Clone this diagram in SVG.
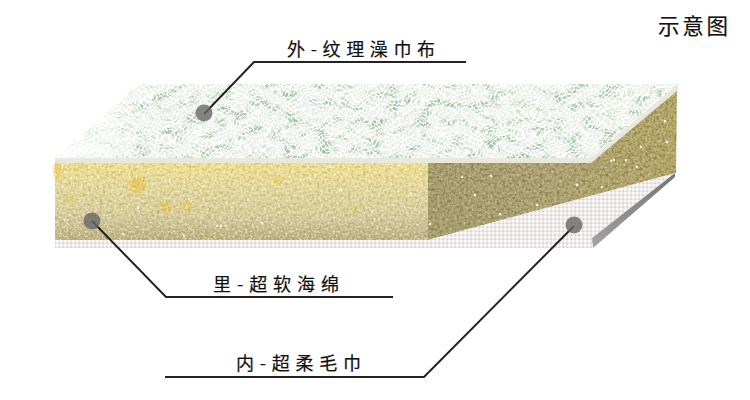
<svg xmlns="http://www.w3.org/2000/svg" width="750" height="400" viewBox="0 0 750 400">
  <style>
    .label { font-family: "Noto Sans CJK SC", "Noto Sans", sans-serif; fill: #111; stroke: #111; stroke-width: .2; }
    .leader { fill: none; stroke: #222; stroke-width: 2; }
    .dot { fill: #676764; fill-opacity: .8; }
  </style>
  <defs>
    <linearGradient id="foamFront" x1="0" y1="0" x2="0" y2="1">
      <stop offset="0" stop-color="#f0e088"/>
      <stop offset=".25" stop-color="#e8da98"/>
      <stop offset=".7" stop-color="#d6ca9a"/>
      <stop offset="1" stop-color="#b9ad7e"/>
    </linearGradient>
    <linearGradient id="foamSide" x1="0" y1="0" x2="1" y2="0">
      <stop offset="0" stop-color="#a79d6e"/>
      <stop offset=".5" stop-color="#aea373"/>
      <stop offset="1" stop-color="#b5a766"/>
    </linearGradient>
    <linearGradient id="edgeShade" x1="0" y1="1" x2="1" y2="0">
      <stop offset="0" stop-color="#a3a3a3"/>
      <stop offset="1" stop-color="#747474"/>
    </linearGradient>
    <linearGradient id="cornerFade" x1="0" y1="0" x2="1" y2="0">
      <stop offset="0" stop-color="#fff" stop-opacity=".9"/>
      <stop offset="1" stop-color="#fff" stop-opacity="0"/>
    </linearGradient>

    <!-- white terry loops laid over the green pile -->
    <pattern id="loops" width="7" height="5" patternUnits="userSpaceOnUse">
      <path d="M0 1q1.7 2.4 3.5 0t3.5 0M0 3.6q1.7-2.4 3.5 0t3.5 0" fill="none" stroke="#fff" stroke-width="1.35"/>
    </pattern>
    <!-- small woven cells of the inner towel -->
    <pattern id="weave" width="4" height="4" patternUnits="userSpaceOnUse">
      <rect width="4" height="4" fill="#eeeaea"/>
      <circle cx="1.2" cy="1.2" r="1.1" fill="#fff"/>
      <circle cx="3.2" cy="3.2" r=".8" fill="#d0c9cc"/>
    </pattern>

    <filter id="greenPile" x="0" y="0" width="1" height="1" color-interpolation-filters="sRGB">
      <feTurbulence type="fractalNoise" baseFrequency=".06 .11" numOctaves="3" seed="7"/>
      <feColorMatrix values="0 0 0 0 .62  0 0 0 0 .76  0 0 0 0 .63  4 0 0 0 -1.95"/>
      <feComposite in2="SourceAlpha" operator="in"/>
    </filter>
    <filter id="swirl" x="-2%" y="-2%" width="104%" height="104%">
      <feTurbulence type="fractalNoise" baseFrequency=".06" numOctaves="2" seed="21" result="warp"/>
      <feDisplacementMap in="SourceGraphic" in2="warp" scale="16" xChannelSelector="R" yChannelSelector="G"/>
      <feGaussianBlur stdDeviation=".3"/>
    </filter>
    <filter id="grain" x="0" y="0" width="1" height="1" color-interpolation-filters="sRGB">
      <feTurbulence type="fractalNoise" baseFrequency=".42" numOctaves="2" seed="3"/>
      <feColorMatrix values="0 0 0 0 1  0 0 0 0 1  0 0 0 0 .92  3 0 0 0 -1.35"/>
      <feGaussianBlur stdDeviation=".4"/>
      <feComposite in2="SourceAlpha" operator="in"/>
    </filter>
    <filter id="grainDark" x="0" y="0" width="1" height="1" color-interpolation-filters="sRGB">
      <feTurbulence type="fractalNoise" baseFrequency=".35" numOctaves="2" seed="11"/>
      <feColorMatrix values="0 0 0 0 .45  0 0 0 0 .41  0 0 0 0 .2  3 0 0 0 -1.35"/>
      <feGaussianBlur stdDeviation=".4"/>
      <feComposite in2="SourceAlpha" operator="in"/>
    </filter>
    <filter id="soft" x="-30%" y="-30%" width="160%" height="160%">
      <feGaussianBlur stdDeviation="1.4"/>
    </filter>
    <filter id="speck" x="-5%" y="-5%" width="110%" height="110%">
      <feGaussianBlur stdDeviation=".35"/>
    </filter>
    <clipPath id="topClip"><polygon points="140,84 678,84 591,158 55,158"/></clipPath>
  </defs>

  <rect width="750" height="400" fill="#fff"/>

  <!-- outer terry surface -->
  <g id="outer-layer">
    <polygon points="140,84 678,84 591,158 55,158" fill="#e9efe6"/>
    <polygon points="140,84 678,84 591,158 55,158" fill="#000" filter="url(#greenPile)"/>
    <g clip-path="url(#topClip)">
      <rect x="30" y="60" width="670" height="120" fill="url(#loops)" filter="url(#swirl)"/>
    </g>
    <polygon points="55,158 120,84 160,84 110,158" fill="url(#cornerFade)"/>
    <polygon points="55,158 591,158 678,84 678,91 592,163 55,163" fill="#e9e8dd"/>
  </g>

  <!-- foam core: front face and shaded cut face -->
  <g id="foam-layer">
    <rect x="55" y="163" width="373" height="77" fill="url(#foamFront)"/>
    <g filter="url(#soft)" fill="#ebc63c" opacity=".7">
      <ellipse cx="57" cy="171" rx="3.5" ry="8"/>
      <ellipse cx="137" cy="185" rx="9" ry="8" transform="rotate(30 137 185)"/>
      <ellipse cx="166" cy="207" rx="7" ry="5" transform="rotate(35 166 207)"/>
      <ellipse cx="186" cy="206" rx="6" ry="4"/>
      <ellipse cx="82" cy="167" rx="3" ry="2"/>
      <ellipse cx="355" cy="209" rx="3" ry="3"/>
      <ellipse cx="276" cy="181" rx="5" ry="3"/>
      <ellipse cx="72" cy="200" rx="4" ry="3"/>
    </g>
    <rect x="55" y="163" width="373" height="77" fill="#000" filter="url(#grain)" opacity=".6"/>
    <rect x="55" y="163" width="373" height="77" fill="#000" filter="url(#grainDark)" opacity=".25"/>
    <polygon points="428,163 591,163 677,91 676,173 428,240" fill="url(#foamSide)"/>
    <polygon points="428,163 591,163 677,91 676,173 428,240" fill="#000" filter="url(#grain)" opacity=".3"/>
    <polygon points="428,163 591,163 677,91 676,173 428,240" fill="#000" filter="url(#grainDark)" opacity=".6"/>
    <g fill="#f4f1ee" filter="url(#speck)">
      <circle cx="71" cy="178" r="1.2"/><circle cx="165" cy="181" r="1.2"/><circle cx="138" cy="208" r="1.2"/>
      <circle cx="221" cy="226" r="1.6"/><circle cx="217" cy="226" r="1.2"/><circle cx="226" cy="226" r="1.2"/>
      <circle cx="330" cy="167" r="1.2"/><circle cx="310" cy="179" r="1.2"/><circle cx="340" cy="190" r="1.2"/>
      <circle cx="411" cy="194" r="1.2"/><circle cx="248" cy="200" r="1.2"/><circle cx="123" cy="234" r="1.2"/>
      <circle cx="184" cy="236" r="1.2"/><circle cx="262" cy="223" r="1.2"/><circle cx="372" cy="212" r="1.2"/>
      <circle cx="462" cy="177" r="1.2"/><circle cx="475" cy="195" r="1.2"/><circle cx="491" cy="176" r="1.2"/>
      <circle cx="577" cy="185" r="1.4"/><circle cx="602" cy="187" r="1.2"/><circle cx="611" cy="161" r="1.2"/>
      <circle cx="614" cy="160" r="1.2"/><circle cx="641" cy="147" r="1.2"/><circle cx="667" cy="142" r="1.4"/>
      <circle cx="665" cy="121" r="1.2"/><circle cx="626" cy="160" r="1.2"/><circle cx="637" cy="167" r="1.2"/>
      <circle cx="430" cy="224" r="1.2"/><circle cx="537" cy="205" r="1.2"/><circle cx="500" cy="214" r="1.2"/>
    </g>
  </g>

  <!-- inner towel layer, seen along the bottom and under the cut -->
  <g id="inner-layer">
    <polygon points="55,240 428,240 675,173 592,238 592,248 55,248" fill="url(#weave)" filter="url(#speck)"/>
    <polygon points="675,173 675,177 593,248 592,238" fill="url(#edgeShade)"/>
  </g>

  <!-- leader lines -->
  <g id="connectors">
    <polyline class="leader" points="204,114 254,62 466,62"/>
    <polyline class="leader" points="92,221 166,297 393,297"/>
    <polyline class="leader" points="574,226 424,377 165,377"/>
  </g>

  <g id="marker-outer"><circle class="dot" cx="204" cy="113" r="8.5"/></g>
  <g id="marker-foam"><circle class="dot" cx="92" cy="221" r="8.5"/></g>
  <g id="marker-inner"><circle class="dot" cx="574" cy="225" r="8.5"/></g>

  <g id="label-outer"><text class="label" x="287" y="56" font-size="18" textLength="148" lengthAdjust="spacing">外-纹理澡巾布</text></g>
  <g id="label-foam"><text class="label" x="213" y="291" font-size="18" textLength="126" lengthAdjust="spacing">里-超软海绵</text></g>
  <g id="label-inner"><text class="label" x="236" y="370" font-size="18" textLength="125" lengthAdjust="spacing">内-超柔毛巾</text></g>
  <g id="label-title"><text class="label" x="658" y="34" font-size="21.5" textLength="70" lengthAdjust="spacing">示意图</text></g>
</svg>
